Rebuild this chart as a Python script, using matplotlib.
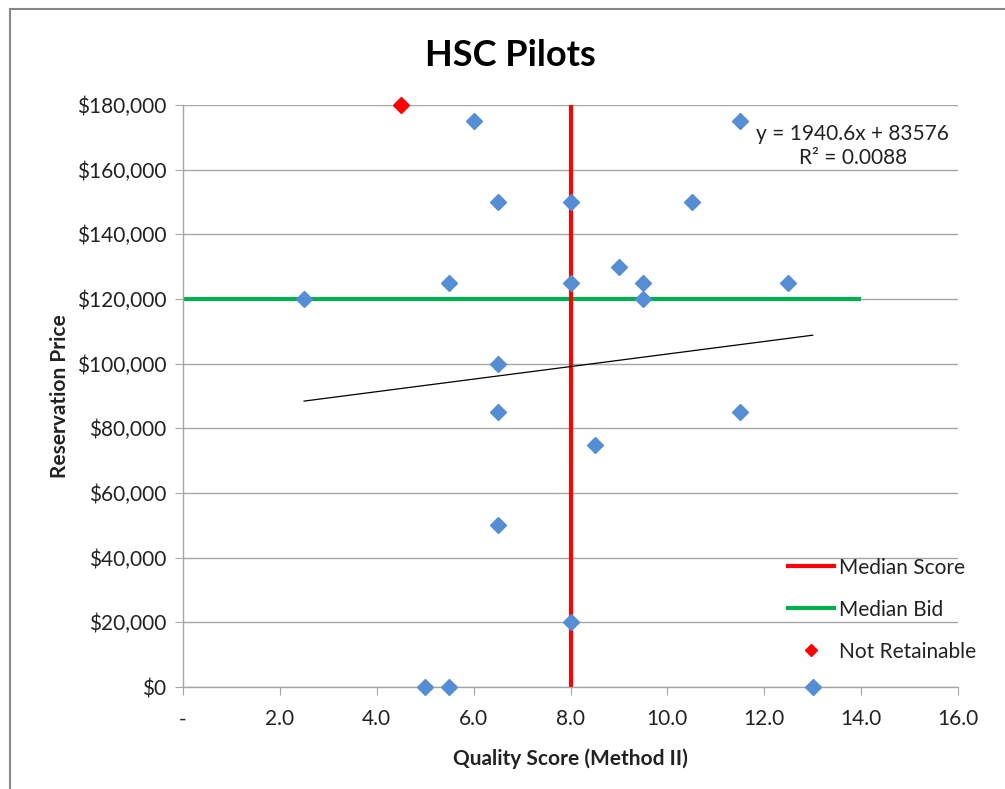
import matplotlib
matplotlib.use("Agg")
import matplotlib.pyplot as plt
from matplotlib.lines import Line2D
from matplotlib.ticker import FuncFormatter, MultipleLocator
import numpy as np

plt.rcParams['font.family'] = ['Lato', 'DejaVu Sans']

# Data
score = [6.0, 11.5, 6.5, 8.0, 10.5, 9.0, 5.5, 8.0, 9.5, 12.5, 2.5, 9.5,
         6.5, 6.5, 11.5, 8.5, 6.5, 8.0, 5.0, 5.5, 13.0]
price = [175000, 175000, 150000, 150000, 150000, 130000, 125000, 125000, 125000, 125000, 120000, 120000,
         100000, 85000, 85000, 75000, 50000, 20000, 0, 0, 0]
not_ret_score = [4.5]
not_ret_price = [180000]
median_score = 8.0
median_bid = 120000
median_bid_x = [0.0, 14.0]
trend_slope = 1940.6
trend_intercept = 83576
trend_x = [2.5, 13.0]
r_squared = 0.0088

fig = plt.figure(figsize=(10.05, 7.89), dpi=100)
ax = fig.add_axes([183/1005, 1-687/789, (958-183)/1005, (687-105)/789])

grid_c = '#a6a6a6'
txt_c = '#222222'
ax.set_xlim(0, 16)
ax.set_ylim(0, 180000)
ax.yaxis.set_major_locator(MultipleLocator(20000))
ax.xaxis.set_major_locator(MultipleLocator(2))
ax.grid(axis='y', color=grid_c, linewidth=1.0, zorder=0)
ax.set_axisbelow(True)
for s in ['top', 'right']:
    ax.spines[s].set_visible(False)
for s in ['left', 'bottom']:
    ax.spines[s].set_color(grid_c)
    ax.spines[s].set_linewidth(1.0)
ax.tick_params(axis='both', direction='out', length=6, color=grid_c, labelsize=15,
               labelcolor=txt_c)
ax.tick_params(axis='x', pad=10)
ax.tick_params(axis='y', pad=6)
ax.yaxis.set_major_formatter(FuncFormatter(lambda v, p: f"${v:,.0f}"))
ax.xaxis.set_major_formatter(FuncFormatter(lambda v, p: "-" if v == 0 else f"{v:.1f}"))

# Median lines
ax.plot(median_bid_x, [median_bid, median_bid], color='#00B050', linewidth=3.0, zorder=2,
        label='Median Bid', solid_capstyle='butt')
ax.plot([median_score, median_score], [0, 180000], color='#FF0000', linewidth=3.0, zorder=2,
        label='Median Score', solid_capstyle='butt')

# Trend line
tx = np.array(trend_x)
ax.plot(tx, trend_slope * tx + trend_intercept, color='black', linewidth=0.9, zorder=3)

# Points
ax.plot(score, price, linestyle='none', marker='D', markersize=8.3, color='#558ED5',
        markeredgecolor='#558ED5', zorder=4, clip_on=False)
ax.plot(not_ret_score, not_ret_price, linestyle='none', marker='D', markersize=8.3,
        color='#FF0000', zorder=4, clip_on=False, label='Not Retainable')

ax.text(13.83, 167300, f"y = {trend_slope}x + {trend_intercept}\nR² = {r_squared}",
        ha='center', va='center', fontsize=15, color=txt_c, linespacing=1.3)

handles = [Line2D([], [], color='#FF0000', linewidth=3),
           Line2D([], [], color='#00B050', linewidth=3),
           Line2D([], [], color='#FF0000', marker='D', linestyle='none', markersize=6.5)]
labels = ['Median Score', 'Median Bid', 'Not Retainable']
fig.legend(handles, labels, loc='upper left', bbox_to_anchor=(769/1005, 1-539/789),
           frameon=False, fontsize=15, handlelength=2.2, handletextpad=0.25,
           labelspacing=1.05, labelcolor=txt_c)

fig.text(510/1005, 1-55/789, 'HSC Pilots', fontsize=26, fontweight='bold', color='black',
         ha='center', va='center')
ax.set_xlabel('Quality Score (Method II)', fontsize=15, fontweight='bold', labelpad=14,
              color=txt_c)
ax.set_ylabel('Reservation Price', fontsize=15, fontweight='bold', labelpad=5, color=txt_c)

# Outer chart border
fig.add_artist(Line2D([10/1005, 10/1005], [0, 1-9/789], transform=fig.transFigure,
                      color='#888888', linewidth=1.5))
fig.add_artist(Line2D([10/1005, 1], [1-9/789, 1-9/789], transform=fig.transFigure,
                      color='#888888', linewidth=1.5))

fig.savefig('out.png', dpi=100)
